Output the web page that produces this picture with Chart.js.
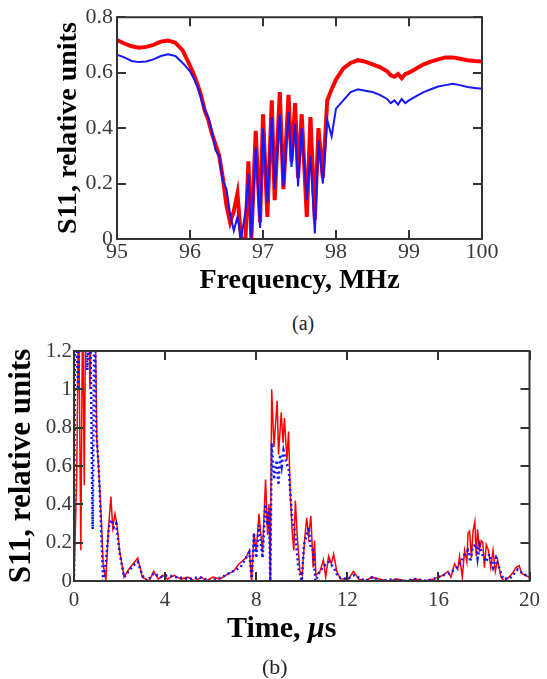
<!DOCTYPE html>
<html>
<head>
<meta charset="utf-8">
<script src="https://cdn.jsdelivr.net/npm/chart.js@4.4.1/dist/chart.umd.min.js"></script>
<style>
  body { margin: 0; background: #fff; }
  #page { position: relative; width: 547px; height: 679px; font-family: 'Liberation Serif', serif; }
  canvas { position: absolute; left: 0; }
  .cap { position: absolute; line-height: 1; white-space: nowrap; color: #222; }
</style>
</head>
<body>
<div id="page">
  <canvas id="chartA" width="547" height="300" style="top:0"></canvas>
  <div class="cap" style="left:292px; top:313px; font-size:20px;">(a)</div>
  <canvas id="chartB" width="547" height="300" style="top:330px"></canvas>
  <div class="cap" style="left:227px; top:612px; font-size:30px; font-weight:bold; color:#000;">Time, <i>μ</i>s</div>
  <div class="cap" style="left:262px; top:656px; font-size:22px;">(b)</div>
</div>
<script>
// (a) S11 vs frequency, MHz
const freqA = [95.00, 95.10, 95.20, 95.30, 95.40, 95.50, 95.60, 95.70, 95.80, 95.90,
  96.00, 96.05, 96.10, 96.15, 96.20, 96.25, 96.30, 96.35, 96.40, 96.45, 96.50, 96.55, 96.60,
  96.65, 96.70, 96.76, 96.80, 96.84, 96.90, 96.96, 97.00, 97.06, 97.12, 97.16, 97.23, 97.28,
  97.35, 97.39, 97.44, 97.48, 97.53, 97.60, 97.65, 97.71, 97.76, 97.82, 97.88, 97.94, 98.00,
  98.10, 98.20, 98.30, 98.40, 98.50, 98.60, 98.70, 98.75, 98.80, 98.85, 98.90, 98.95, 99.00,
  99.10, 99.20, 99.30, 99.40, 99.50, 99.60, 99.70, 99.80, 99.90, 100.00];
const redA = [0.718, 0.705, 0.695, 0.690, 0.693, 0.700, 0.712, 0.716, 0.708, 0.680,
  0.625, 0.595, 0.560, 0.520, 0.465, 0.430, 0.380, 0.340, 0.300, 0.220, 0.120, 0.060, 0.100,
  0.165, 0.000, 0.000, 0.280, 0.000, 0.390, 0.060, 0.450, 0.080, 0.500, 0.140, 0.530, 0.180,
  0.520, 0.280, 0.490, 0.220, 0.450, 0.080, 0.440, 0.070, 0.400, 0.220, 0.500, 0.540, 0.575,
  0.615, 0.635, 0.645, 0.640, 0.630, 0.620, 0.605, 0.590, 0.585, 0.595, 0.580, 0.595, 0.600,
  0.615, 0.630, 0.640, 0.648, 0.655, 0.655, 0.650, 0.645, 0.642, 0.640];
const blueA = [0.665, 0.655, 0.642, 0.638, 0.640, 0.648, 0.660, 0.666, 0.660, 0.635,
  0.605, 0.580, 0.550, 0.510, 0.465, 0.440, 0.390, 0.320, 0.300, 0.210, 0.180, 0.090, 0.030,
  0.080, 0.000, 0.100, 0.235, 0.000, 0.330, 0.040, 0.400, 0.130, 0.440, 0.180, 0.450, 0.190,
  0.460, 0.260, 0.415, 0.190, 0.400, 0.140, 0.300, 0.020, 0.355, 0.200, 0.430, 0.370, 0.470,
  0.500, 0.530, 0.540, 0.535, 0.530, 0.520, 0.505, 0.490, 0.500, 0.485, 0.505, 0.490, 0.500,
  0.515, 0.530, 0.540, 0.550, 0.555, 0.560, 0.555, 0.548, 0.545, 0.542];

// (b) S11 vs time, us
const timeRedB = [0.00, 0.12, 0.20, 0.30, 0.38, 0.45, 0.52, 0.62, 0.70, 0.78, 0.92, 1.00, 1.12,
  1.20, 1.28, 1.40, 1.50, 1.62, 1.70, 1.80, 1.88, 2.00, 2.20, 2.40, 2.60, 2.80, 3.00, 3.30, 3.50,
  3.70, 3.90, 4.10, 4.40, 4.70, 5.00, 5.30, 5.60, 5.80, 6.10, 6.40, 6.80, 7.00, 7.25, 7.54, 7.70,
  7.80, 7.90, 8.00, 8.12, 8.28, 8.41, 8.50, 8.56, 8.62, 8.68, 8.78, 8.92, 8.98, 9.10, 9.18, 9.24,
  9.35, 9.42, 9.50, 9.58, 9.65, 9.72, 9.80, 9.92, 10.02, 10.12, 10.22, 10.30, 10.40, 10.50, 10.56,
  10.62, 10.80, 10.95, 11.05, 11.18, 11.30, 11.40, 11.54, 11.70, 12.05, 12.27, 12.50, 12.78, 13.07,
  13.40, 13.80, 14.20, 14.60, 15.00, 15.40, 15.80, 16.00, 16.20, 16.42, 16.55, 16.71, 16.85, 16.93,
  17.05, 17.15, 17.25, 17.30, 17.37, 17.45, 17.52, 17.60, 17.66, 17.72, 17.80, 17.88, 17.95, 18.02,
  18.10, 18.20, 18.30, 18.40, 18.50, 18.60, 18.75, 18.90, 19.10, 19.25, 19.40, 19.55, 19.65, 19.80, 20.00];
const redB = [0.00, 0.55, 1.50, 0.16, 1.50, 0.50, 1.50, 1.50, 1.00, 1.50, 1.50, 0.74, 0.51,
  0.32, 0.09, 0.00, 0.25, 0.44, 0.28, 0.35, 0.30, 0.16, 0.02, 0.06, 0.09, 0.12, 0.02, 0.00, 0.05,
  0.01, 0.03, 0.01, 0.03, 0.01, 0.02, 0.00, 0.02, 0.00, 0.02, 0.01, 0.04, 0.05, 0.09, 0.12, 0.16,
  0.00, 0.25, 0.15, 0.35, 0.15, 0.53, 0.24, 0.40, 0.02, 1.00, 0.70, 0.94, 0.66, 0.88, 0.72, 0.85,
  0.63, 0.78, 0.44, 0.26, 0.16, 0.42, 0.24, 0.05, 0.03, 0.21, 0.33, 0.23, 0.34, 0.07, 0.21,
  0.03, 0.05, 0.11, 0.02, 0.13, 0.09, 0.14, 0.05, 0.01, 0.01, 0.05, 0.01, 0.00, 0.02,
  0.01, 0.00, 0.01, 0.00, 0.01, 0.00, 0.01, 0.02, 0.03, 0.05, 0.02, 0.09, 0.06, 0.13,
  0.02, 0.16, 0.10, 0.25, 0.26, 0.12, 0.26, 0.31, 0.13, 0.27, 0.16, 0.21, 0.20, 0.07,
  0.19, 0.16, 0.07, 0.16, 0.05, 0.11, 0.02, 0.00, 0.02, 0.04, 0.07, 0.08, 0.04, 0.03, 0.02];
const timeBlueB = [0.00, 0.05, 0.18, 0.28, 0.45, 0.58, 0.70, 0.82, 0.90, 0.98, 1.08, 1.15, 1.28,
  1.40, 1.55, 1.65, 1.75, 1.85, 2.00, 2.20, 2.40, 2.60, 2.80, 3.00, 3.20, 3.50, 3.80, 4.10, 4.50,
  5.00, 5.50, 6.00, 6.50, 6.80, 7.30, 7.70, 7.80, 7.90, 8.00, 8.12, 8.28, 8.40, 8.50, 8.56, 8.62,
  8.68, 8.78, 8.90, 8.98, 9.05, 9.12, 9.20, 9.30, 9.43, 9.50, 9.58, 9.70, 9.85, 10.00, 10.10,
  10.30, 10.40, 10.50, 10.60, 10.80, 11.00, 11.20, 11.40, 11.60, 12.00, 12.30, 12.80, 13.10,
  13.50, 14.00, 14.50, 15.00, 15.50, 16.00, 16.20, 16.50, 16.86, 17.00, 17.15, 17.30, 17.40,
  17.51, 17.66, 17.72, 17.80, 17.95, 18.09, 18.24, 18.40, 18.53, 18.75, 18.85, 19.20, 19.48, 19.70, 20.00];
const blueB = [0.00, 1.50, 1.00, 1.50, 1.50, 1.10, 1.50, 0.27, 1.50, 0.78, 0.60, 0.40, 0.00,
  0.10, 0.30, 0.32, 0.28, 0.30, 0.15, 0.02, 0.05, 0.08, 0.10, 0.03, 0.00, 0.04, 0.02, 0.03, 0.02,
  0.01, 0.02, 0.00, 0.02, 0.04, 0.07, 0.15, 0.00, 0.25, 0.12, 0.29, 0.12, 0.40, 0.29, 0.38, 0.00,
  0.72, 0.53, 0.63, 0.50, 0.66, 0.60, 0.68, 0.63, 0.58, 0.46, 0.32, 0.26, 0.07, 0.00, 0.19,
  0.28, 0.17, 0.16, 0.00, 0.05, 0.08, 0.10, 0.07, 0.02, 0.01, 0.03, 0.00, 0.02,
  0.00, 0.01, 0.00, 0.01, 0.00, 0.02, 0.03, 0.04, 0.075, 0.10, 0.14, 0.16, 0.10,
  0.18, 0.19, 0.12, 0.19, 0.13, 0.10, 0.14, 0.07, 0.12, 0.04, 0.01, 0.02, 0.06, 0.04, 0.02];

const toPoints = (xs, ys) => xs.map((x, i) => ({ x: x, y: ys[i] }));

// frame round the plot plus inward tick marks on all four sides
const frameTicks = {
  id: 'frameTicks',
  afterDraw(chart) {
    const { ctx, chartArea: a } = chart;
    const x = chart.scales.x, y = chart.scales.y;
    const len = 9;
    ctx.save();
    ctx.setLineDash([]);
    ctx.strokeStyle = '#333';
    ctx.lineWidth = 2;
    ctx.beginPath();
    x.ticks.forEach(t => {
      const px = Math.round(x.getPixelForValue(t.value));
      ctx.moveTo(px, a.bottom); ctx.lineTo(px, a.bottom - len);
      ctx.moveTo(px, a.top); ctx.lineTo(px, a.top + len);
    });
    y.ticks.forEach(t => {
      const py = Math.round(y.getPixelForValue(t.value));
      ctx.moveTo(a.left, py); ctx.lineTo(a.left + len, py);
      ctx.moveTo(a.right, py); ctx.lineTo(a.right - len, py);
    });
    ctx.rect(a.left, a.top, a.right - a.left, a.bottom - a.top);
    ctx.stroke();
    ctx.restore();
  }
};

const serif = 'Liberation Serif';
const fmt = v => String(Number(v.toFixed(2)));

const makeChart = (id, cfg) => new Chart(document.getElementById(id), {
  type: 'line',
  data: { datasets: cfg.datasets },
  options: {
    responsive: false,
    animation: false,
    layout: { padding: cfg.padding },
    elements: { point: { radius: 0 }, line: { tension: 0 } },
    plugins: { legend: { display: false }, tooltip: { enabled: false } },
    scales: {
      x: {
        type: 'linear', min: cfg.xMin, max: cfg.xMax,
        ticks: { stepSize: cfg.xStep, color: '#3a3a3a', font: { family: serif, size: cfg.tickSize }, padding: cfg.xPad, maxRotation: 0, callback: fmt },
        grid: { display: false, drawTicks: false },
        border: { display: false },
        title: cfg.xTitle,
        afterFit: s => { s.height = cfg.xHeight; }
      },
      y: {
        min: 0, max: cfg.yMax,
        ticks: { stepSize: 0.2, color: '#3a3a3a', font: { family: serif, size: cfg.tickSize }, padding: cfg.yPad, callback: fmt },
        grid: { display: false, drawTicks: false },
        border: { display: false },
        title: cfg.yTitle,
        afterFit: s => { s.width = cfg.yWidth; }
      }
    }
  },
  plugins: [frameTicks]
});

makeChart('chartA', {
  datasets: [
    { data: toPoints(freqA, blueA), borderColor: '#1818ff', borderWidth: 2, order: 1, clip: 0 },
    { data: toPoints(freqA, redA), borderColor: '#ff0000', borderWidth: 4, order: 2, clip: 0 }
  ],
  padding: { top: 16, right: 65, left: 0, bottom: 0 },
  xMin: 95, xMax: 100, xStep: 1, yMax: 0.8,
  tickSize: 22, xPad: 0, yPad: 4, xHeight: 61, yWidth: 117,
  xTitle: { display: true, text: 'Frequency, MHz', color: '#000', font: { family: serif, size: 28, weight: 'bold', lineHeight: 1 }, padding: { top: 0, bottom: 5 } },
  yTitle: { display: true, text: 'S11, relative units', color: '#000', font: { family: serif, size: 28, weight: 'bold', lineHeight: 1 }, padding: { top: 55, bottom: 0 } }
});

makeChart('chartB', {
  datasets: [
    { data: toPoints(timeBlueB, blueB), borderColor: '#1010ff', borderWidth: 2.5, borderDash: [2, 3], order: 1, clip: 0 },
    { data: toPoints(timeRedB, redB), borderColor: '#ff0000', borderWidth: 1.5, order: 2, clip: 0 }
  ],
  padding: { top: 21, right: 15, left: 0, bottom: 0 },
  xMin: 0, xMax: 20, xStep: 4, yMax: 1.2,
  tickSize: 21, xPad: 7, yPad: 2, xHeight: 49, yWidth: 74,
  xTitle: { display: false },
  yTitle: { display: true, text: 'S11, relative units', color: '#000', font: { family: serif, size: 31, weight: 'bold', lineHeight: 1 }, padding: { top: 6, bottom: 0 } }
});
</script>
</body>
</html>
